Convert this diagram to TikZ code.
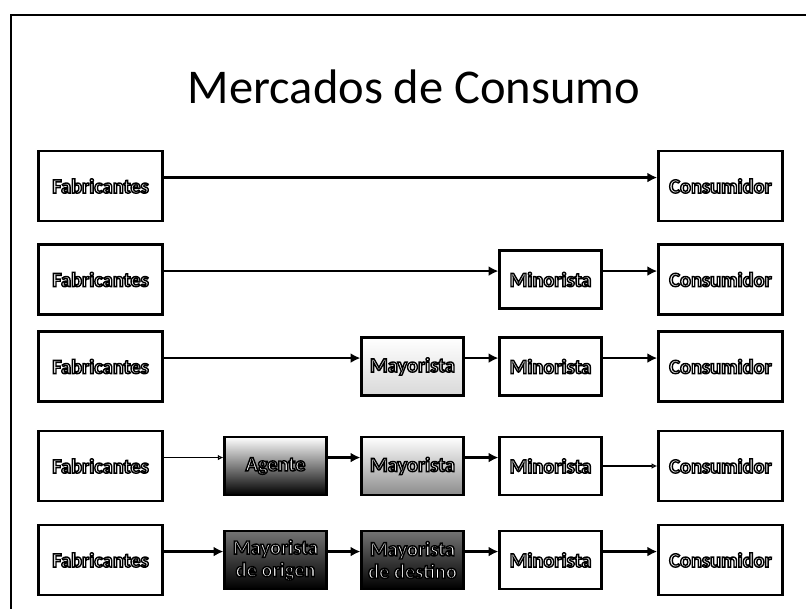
\documentclass[tikz,border=0pt]{standalone}
\usepackage{fontspec}
\setmainfont{Carlito}
\usetikzlibrary{arrows.meta}

% texto blanco con contorno negro
\newcommand{\contorno}[1]{{\color{white}\special{pdf:literal direct 2 Tr 1.0 w 1 g 0 G}#1\special{pdf:literal direct 0 Tr}}}

\begin{document}
\begin{tikzpicture}[
    x=0.025cm,
    y=-0.025cm,
    caja/.style={
        draw,
        line width=1.8pt,
        fill=white,
        minimum width=3.1cm,
        minimum height=1.75cm,
        inner sep=0pt,
        font=\fontsize{14.5}{16}\selectfont\bfseries,
        align=center
    },
    cajita/.style={
        caja,
        line width=1.5pt,
        minimum width=2.55cm,
        minimum height=1.45cm
    },
    oscura/.style={
        cajita,
        top color=black!55,
        bottom color=black
    },
    flecha/.style={
        -{Latex[length=7pt,width=7pt]},
        line width=2pt,
        transform canvas={yshift=6pt}
    },
    flechafina/.style={
        -{Latex[open,length=4pt,width=4pt]},
        line width=0.9pt
    }
]
\useasboundingbox (0,0) rectangle (806,609);

% marco
\draw[line width=1.6pt] (11,609) -- (11,15) -- (806,15);

\node[anchor=base, font=\fontsize{34.5}{40}\selectfont] (titulo) at (414,104)
{Mercados de Consumo};

% fila 1
\node[caja] (fab1) at (100.5,186) {\contorno{Fabricantes}};
\node[caja] (cons1) at (720.5,186) {\contorno{Consumidor}};

% fila 2
\node[caja] (fab2) at (100.5,279.5) {\contorno{Fabricantes}};
\node[cajita] (min2) at (550.5,279.5) {\contorno{Minorista}};
\node[caja] (cons2) at (720.5,279.5) {\contorno{Consumidor}};

% fila 3
\node[caja] (fab3) at (100.5,366.5) {\contorno{Fabricantes}};
\node[cajita, top color=white, bottom color=black!15] (may3) at (412.5,366.5)
{\contorno{Mayorista}};
\node[cajita] (min3) at (550.5,366.5) {\contorno{Minorista}};
\node[caja] (cons3) at (720.5,366.5) {\contorno{Consumidor}};

% fila 4
\node[caja] (fab4) at (100.5,466) {\contorno{Fabricantes}};
\node[oscura, top color=white] (age4) at (275.5,466) {\contorno{Agente}};
\node[cajita, top color=white, bottom color=black!45] (may4) at (412.5,466)
{\contorno{Mayorista}};
\node[cajita] (min4) at (550.5,466) {\contorno{Minorista}};
\node[caja] (cons4) at (720.5,466) {\contorno{Consumidor}};

% fila 5
\node[caja] (fab5) at (100.5,560) {\contorno{Fabricantes}};
\node[oscura] (mayo5) at (275.5,560) {\contorno{Mayorista}\\\contorno{de origen}};
\node[oscura] (mayd5) at (412.5,560) {\contorno{Mayorista}\\\contorno{de destino}};
\node[cajita] (min5) at (550.5,560) {\contorno{Minorista}};
\node[caja] (cons5) at (720.5,560) {\contorno{Consumidor}};

\draw[flecha] (fab1) -- (cons1);

\draw[flecha] (fab2) -- (min2);
\draw[flecha] (min2) -- (cons2);

\draw[flecha] (fab3) -- (may3);
\draw[flecha] (may3) -- (min3);
\draw[flecha] (min3) -- (cons3);

\draw[flechafina, transform canvas={yshift=6pt}] (fab4) -- (age4);
\draw[flecha] (age4) -- (may4);
\draw[flecha] (may4) -- (min4);
\draw[flechafina] (min4) -- (cons4);

\draw[flecha] (fab5) -- (mayo5);
\draw[flecha] (mayo5) -- (mayd5);
\draw[flecha] (mayd5) -- (min5);
\draw[flecha] (min5) -- (cons5);

\end{tikzpicture}
\end{document}
